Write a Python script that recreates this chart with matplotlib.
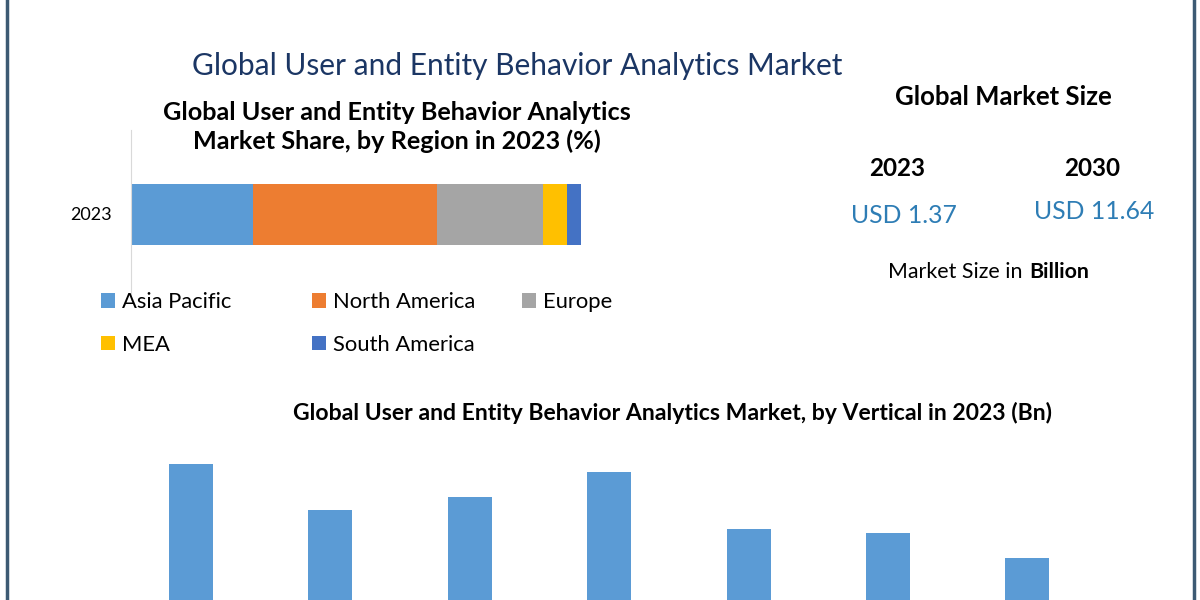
import matplotlib
matplotlib.use("Agg")
import matplotlib.pyplot as plt
from matplotlib.patches import Patch

# market share by region, 2023 (%)
regions = ["Asia Pacific", "North America", "Europe", "MEA", "South America"]
region_share = [27.1, 40.9, 23.6, 5.3, 3.1]
region_colors = ["#5b9bd5", "#ed7d31", "#a5a5a5", "#ffc000", "#4472c4"]

# market by vertical, 2023 (Bn)
verticals = ["BFSI", "IT & Telecom", "Healthcare", "Government", "Retail", "Manufacturing", "Others"]
vertical_values = [0.263, 0.194, 0.214, 0.251, 0.166, 0.160, 0.123]

size_years = ["2023", "2030"]
size_values = ["USD 1.37", "USD 11.64"]

W, H = 1200, 600
fig = plt.figure(figsize=(12, 6), dpi=100)
fig.patch.set_facecolor("white")
plt.rcParams["font.family"] = ["Lato", "DejaVu Sans"]


def fx(px):
    return px / W


def fy(py):
    return 1 - py / H


# frame lines
for x in (7, 1194):
    fig.add_artist(plt.Line2D([fx(x), fx(x)], [0, 1], color="#3d5a73", lw=2.5))

fig.text(fx(517), fy(66), "Global User and Entity Behavior Analytics Market",
         ha="center", va="center", fontsize=21.5, color="#1b3664")

fig.text(fx(397), fy(127), "Global User and Entity Behavior Analytics\nMarket Share, by Region in 2023 (%)",
         ha="center", va="center", fontsize=18.2, fontweight="bold", color="black",
         linespacing=1.3)

# stacked horizontal bar
ax1 = fig.add_axes([fx(131), fy(300), fx(450), (300 - 130) / H])
left = 0
for name, val, col in zip(regions, region_share, region_colors):
    ax1.barh(["2023"], [val], left=left, color=col, height=0.61, label=name)
    left += val
ax1.set_xlim(0, 100)
ax1.set_ylim(-0.86, 0.84)
for s in ("top", "right", "bottom"):
    ax1.spines[s].set_visible(False)
ax1.spines["left"].set_color("#d9d9d9")
ax1.set_xticks([])
ax1.tick_params(axis="y", length=0, labelsize=13, pad=14)

# legend laid out in three fixed-width columns, row by row
handles = [Patch(facecolor=c, label=n) for n, c in zip(regions, region_colors)]
for col, x0 in enumerate((101, 312, 522)):
    fig.legend(handles=handles[col::3], loc="upper left", bbox_to_anchor=(fx(x0), fy(292)),
               frameon=False, fontsize=15.8, handlelength=0.65, handleheight=0.65,
               handletextpad=0.3, labelspacing=1.04, borderpad=0, borderaxespad=0)

# market size panel
fig.text(fx(1003), fy(97), "Global Market Size", ha="center", va="center",
         fontsize=18.5, fontweight="bold")
for x, xv, yr, val, yv in zip((897, 1092), (904, 1094), size_years, size_values, (215, 212)):
    fig.text(fx(x), fy(168), yr, ha="center", va="center", fontsize=17.5, fontweight="bold")
    fig.text(fx(xv), fy(yv), val, ha="center", va="center", fontsize=17.8, color="#2e7db5")
fig.text(fx(1023), fy(272), "Market Size in", ha="right", va="center", fontsize=15.4)
fig.text(fx(1029), fy(272), "Billion", ha="left", va="center", fontsize=15.4, fontweight="bold")

# vertical bar chart
fig.text(fx(672), fy(413), "Global User and Entity Behavior Analytics Market, by Vertical in 2023 (Bn)",
         ha="center", va="center", fontsize=16.6, fontweight="bold")
ax2 = fig.add_axes([fx(121.3), fy(640), fx(975.7), 200.7 / H])
ax2.bar(verticals, vertical_values, width=0.316, color="#5b9bd5")
ax2.set_xlim(-0.5, len(verticals) - 0.5)
ax2.set_ylim(0, 0.3)
ax2.tick_params(bottom=False, labelbottom=False)
ax2.set_yticks([])
for s in ax2.spines.values():
    s.set_visible(False)

fig.savefig("out.png", dpi=100, facecolor="white")
